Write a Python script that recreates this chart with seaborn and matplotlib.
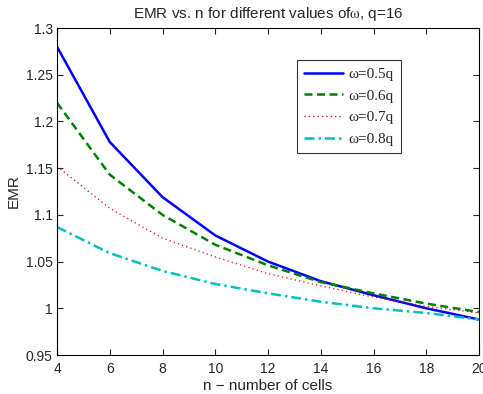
import pandas as pd
import matplotlib
matplotlib.use("Agg")
import matplotlib.pyplot as plt
import seaborn as sns


N_CELLS = [4, 6, 8, 10, 12, 14, 16, 18, 20]

EMR_05 = [1.280, 1.178, 1.119, 1.078, 1.050, 1.029, 1.014, 1.000, 0.988]
EMR_06 = [1.220, 1.143, 1.100, 1.068, 1.046, 1.028, 1.016, 1.005, 0.996]
EMR_07 = [1.152, 1.107, 1.075, 1.055, 1.037, 1.024, 1.012, 1.002, 0.995]
EMR_08 = [1.087, 1.059, 1.040, 1.026, 1.016, 1.007, 1.000, 0.995, 0.988]

LABELS = ["ω=0.5q", "ω=0.6q", "ω=0.7q", "ω=0.8q"]
COLORS = ["#0000ff", "#008000", "#ff0000", "#00bfbf"]
STYLES = ["-", (0, (3.2, 1.8)), (0, (1, 2.5)), (0, (4, 1.6, 1, 1.6))]
WIDTHS = [1.8, 1.8, 0.9, 1.8]


def plot_emr(series):

    sns.set_style("ticks")
    plt.rcParams["font.family"] = ["Liberation Sans", "DejaVu Sans"]
    plt.rcParams["mathtext.fontset"] = "stix"

    fig = plt.figure(figsize=(4.83, 3.94), dpi=100)
    ax = fig.add_axes([57 / 483, 1 - 355 / 394, 422 / 483, 327 / 394])

    for values, label, color, style, lw in zip(
        series, LABELS, COLORS, STYLES, WIDTHS
    ):
        sns.lineplot(
            x=N_CELLS,
            y=values,
            ax=ax,
            color=color,
            linestyle=style,
            linewidth=lw,
            label=label
        )

    ax.set_xlim(4, 20)
    ax.set_ylim(0.95, 1.3)
    ax.set_xticks(range(4, 21, 2))
    ax.set_yticks([0.95, 1, 1.05, 1.1, 1.15, 1.2, 1.25, 1.3])
    ax.set_yticklabels(["0.95", "1", "1.05", "1.1", "1.15", "1.2", "1.25", "1.3"])

    ax.tick_params(
        direction="in", top=True, right=True,
        labelsize=10, length=4, width=0.8
    )
    ax.tick_params(axis="x", pad=5)
    ax.tick_params(axis="y", pad=3)
    for spine in ax.spines.values():
        spine.set_linewidth(0.8)
        spine.set_color("black")

    ax.set_xlabel("n \u2212 number of cells", fontsize=11, labelpad=2)
    ax.set_ylabel("EMR", fontsize=11, labelpad=4)
    ax.set_title(
        r"EMR vs. n for different values of$\mathrm{\omega}$, q=16",
        fontsize=11, pad=7
    )

    leg = ax.legend(
        loc="upper left",
        bbox_to_anchor=(240 / 422, 1 - 32 / 327),
        prop={"family": ["Liberation Serif"], "size": 11},
        frameon=True,
        fancybox=False,
        edgecolor="black",
        handlelength=2.5,
        handletextpad=0.4,
        labelspacing=0.52,
        borderpad=0.48,
        borderaxespad=0
    )
    leg.get_frame().set_linewidth(0.8)

    fig.savefig("out.png", dpi=100)


def main():

    plot_emr([EMR_05, EMR_06, EMR_07, EMR_08])


if __name__ == "__main__":
    main()
